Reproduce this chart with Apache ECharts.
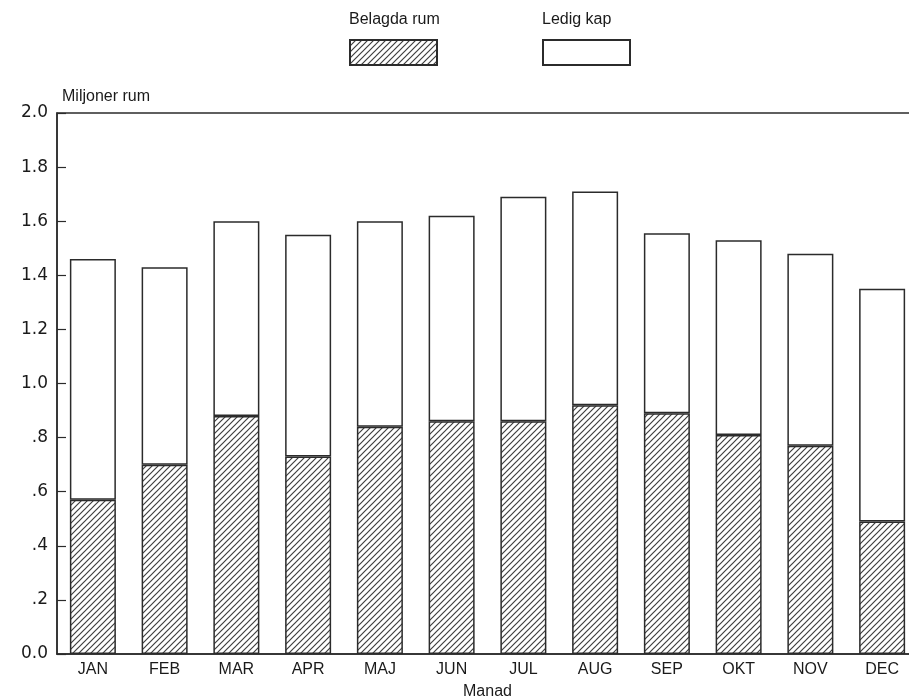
<!DOCTYPE html>
<html>
<head>
<meta charset="utf-8">
<script src="https://cdn.jsdelivr.net/npm/echarts@6/dist/echarts.min.js"></script>
<style>
  html, body { margin: 0; padding: 0; background: #ffffff; }
  #chart { width: 909px; height: 700px; }
</style>
</head>
<body>
<div id="chart"></div>
<script>
// ---- data ----
var months = ['JAN', 'FEB', 'MAR', 'APR', 'MAJ', 'JUN', 'JUL', 'AUG', 'SEP', 'OKT', 'NOV', 'DEC'];
var belagdaRum = [0.57, 0.70, 0.88, 0.73, 0.84, 0.86, 0.86, 0.92, 0.89, 0.81, 0.77, 0.49];
var totalKap   = [1.46, 1.43, 1.60, 1.55, 1.60, 1.62, 1.69, 1.71, 1.555, 1.53, 1.48, 1.35];
var yTickLabels = ['0.0', '.2', '.4', '.6', '.8', '1.0', '1.2', '1.4', '1.6', '1.8', '2.0'];
var seriesNames = ['Belagda rum', 'Ledig kap'];

// free capacity stacked on top of occupied rooms
var ledigKap = totalKap.map(function (t, i) { return +(t - belagdaRum[i]).toFixed(3); });

// hatch pattern
function makeHatch() {
  var s = 6;
  var c = document.createElement('canvas');
  c.width = s; c.height = s;
  var ctx = c.getContext('2d');
  ctx.fillStyle = '#ffffff';
  ctx.fillRect(0, 0, s, s);
  ctx.strokeStyle = '#3f3f3f';
  ctx.lineWidth = 1.2;
  ctx.beginPath();
  ctx.moveTo(0, s); ctx.lineTo(s, 0);
  ctx.moveTo(-s / 2, s / 2); ctx.lineTo(s / 2, -s / 2);
  ctx.moveTo(s / 2, s * 1.5); ctx.lineTo(s * 1.5, s / 2);
  ctx.stroke();
  return c;
}
var hatch = makeHatch();

var chart = echarts.init(document.getElementById('chart'), null, { renderer: 'canvas' });
var lineColor = '#2b2b2b';
var textColor = '#1a1a1a';

var option = {
  backgroundColor: '#ffffff',
  animation: false,
  grid: {
    left: 57, top: 113, width: 861, height: 541,
    outerBoundsMode: 'none', containLabel: false,
    show: true, borderColor: lineColor, borderWidth: 1.5, backgroundColor: 'transparent'
  },
  legend: [
    {
      data: [seriesNames[0]], left: 349, top: 39, itemWidth: 87, itemHeight: 25, padding: 0,
      selectedMode: false, formatter: function () { return ''; }, icon: 'rect'
    },
    {
      data: [seriesNames[1]], left: 542, top: 39, itemWidth: 87, itemHeight: 25, padding: 0,
      selectedMode: false, formatter: function () { return ''; }, icon: 'rect'
    }
  ],
  graphic: [
    { type: 'text', left: 349, top: 12, style: { text: seriesNames[0], fill: textColor, font: '16px "Liberation Sans"', width: 87, align: 'center' }, bounding: 'raw' },
    { type: 'text', left: 542, top: 12, style: { text: seriesNames[1], fill: textColor, font: '16px "Liberation Sans"', width: 87, align: 'center' }, bounding: 'raw' }
  ],
  xAxis: {
    type: 'category',
    data: months,
    axisLine: { lineStyle: { color: lineColor, width: 1.5 } },
    axisTick: { show: false },
    axisLabel: { color: textColor, fontSize: 16, fontFamily: 'Liberation Sans', margin: 8 },
    name: 'Manad',
    nameLocation: 'middle',
    nameGap: 30,
    nameTextStyle: { color: textColor, fontSize: 16, fontFamily: 'Liberation Sans' }
  },
  yAxis: {
    type: 'value',
    min: 0, max: 2, interval: 0.2,
    axisLine: { show: true, lineStyle: { color: lineColor, width: 1.5 } },
    axisTick: { show: true, inside: true, length: 9, lineStyle: { color: lineColor, width: 1.2 } },
    splitLine: { show: false },
    axisLabel: {
      color: textColor, fontSize: 17, fontFamily: 'DejaVu Sans', margin: 9,
      formatter: function (v) { return yTickLabels[Math.round(v / 0.2)]; }
    },
    name: 'Miljoner rum',
    nameLocation: 'end',
    nameGap: 8,
    nameTextStyle: { color: textColor, fontSize: 16, fontFamily: 'Liberation Sans', align: 'left', padding: [0, 0, 0, 5] }
  },
  series: [
    {
      name: seriesNames[0], type: 'bar', stack: 'kap', barWidth: 46,
      data: belagdaRum,
      itemStyle: { color: { image: hatch, repeat: 'repeat' }, borderColor: lineColor, borderWidth: 1.5 }
    },
    {
      name: seriesNames[1], type: 'bar', stack: 'kap', barWidth: 46,
      data: ledigKap,
      itemStyle: { color: '#ffffff', borderColor: lineColor, borderWidth: 1.5 }
    }
  ]
};
chart.setOption(option);
</script>
</body>
</html>
